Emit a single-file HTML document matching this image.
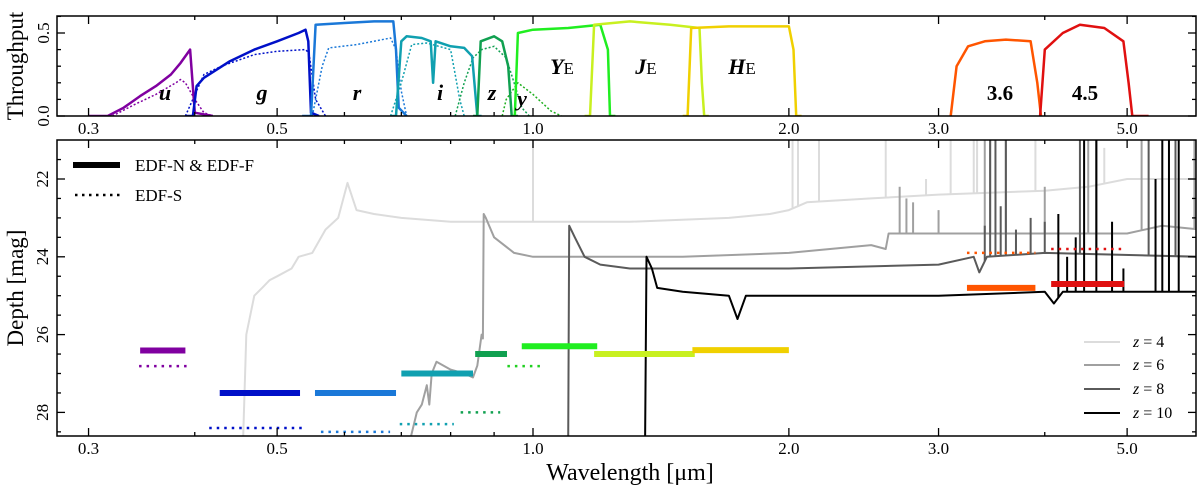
<!DOCTYPE html>
<html><head><meta charset="utf-8">
<style>
html,body{margin:0;padding:0;background:#fff;}
svg{display:block;font-family:"Liberation Serif","DejaVu Serif",serif;}
</style></head>
<body>
<svg id="fig" width="1200" height="493" viewBox="0 0 1200 493" xmlns="http://www.w3.org/2000/svg"></svg>
<script>
// ---- filter throughput curves (wavelength um, throughput) ----
const uSolid=[[0.30,0],[0.316,0],[0.33,0.05],[0.345,0.12],[0.36,0.18],[0.375,0.25],[0.385,0.32],[0.395,0.40],[0.40,0.02],[0.42,0]];
const uDot=[[0.32,0],[0.34,0.07],[0.36,0.13],[0.38,0.2],[0.385,0.22],[0.39,0.2],[0.40,0.1],[0.41,0.02],[0.42,0]];
const gSolid=[[0.39,0],[0.398,0],[0.402,0.18],[0.41,0.23],[0.44,0.33],[0.47,0.4],[0.5,0.45],[0.53,0.5],[0.54,0.52],[0.544,0.45],[0.548,0.02],[0.56,0]];
const gDot=[[0.39,0],[0.41,0.25],[0.43,0.3],[0.47,0.37],[0.5,0.39],[0.54,0.4],[0.545,0.38],[0.555,0.1],[0.57,0]];
const rSolid=[[0.535,0],[0.548,0],[0.555,0.55],[0.6,0.56],[0.65,0.57],[0.685,0.57],[0.69,0.4],[0.695,0.05],[0.71,0]];
const rDot=[[0.55,0],[0.565,0.3],[0.575,0.41],[0.62,0.43],[0.68,0.47],[0.69,0.4],[0.7,0.15],[0.71,0]];
const iSolid=[[0.68,0],[0.69,0],[0.7,0.45],[0.71,0.48],[0.74,0.47],[0.758,0.45],[0.763,0.2],[0.768,0.45],[0.8,0.42],[0.83,0.41],[0.848,0.36],[0.86,0],[0.87,0]];
const iDot=[[0.68,0],[0.7,0.2],[0.72,0.43],[0.75,0.44],[0.8,0.4],[0.81,0.25],[0.82,0.1],[0.83,0]];
const zSolid=[[0.85,0],[0.86,0],[0.868,0.45],[0.9,0.48],[0.92,0.45],[0.935,0.3],[0.944,0],[0.96,0]];
const zDot=[[0.81,0],[0.83,0.2],[0.85,0.35],[0.87,0.4],[0.9,0.42],[0.93,0.35],[0.95,0.2],[0.97,0.05],[0.99,0]];
const yDot=[[0.92,0],[0.93,0.1],[0.96,0.2],[1.0,0.13],[1.05,0.03],[1.08,0]];
const YSolid=[[0.945,0],[0.952,0],[0.96,0.5],[1.0,0.52],[1.1,0.53],[1.2,0.55],[1.225,0.4],[1.232,0],[1.25,0]];
const JSolid=[[1.15,0],[1.167,0],[1.18,0.55],[1.3,0.57],[1.45,0.55],[1.57,0.53],[1.58,0.2],[1.59,0],[1.61,0]];
const HSolid=[[1.50,0],[1.52,0],[1.535,0.53],[1.7,0.54],[2.0,0.54],[2.025,0.4],[2.04,0],[2.07,0]];
const ch1Solid=[[3.1,0],[3.15,0.3],[3.25,0.42],[3.4,0.45],[3.6,0.46],[3.85,0.45],[3.92,0.2],[3.96,0]];
const ch2Solid=[[3.95,0],[4.0,0.4],[4.2,0.5],[4.4,0.55],[4.7,0.53],[4.95,0.45],[5.02,0.2],[5.07,0],[5.3,0]];
// ---- depth bars: [lamMin, lamMax, mag] ----
const solidBars=[[0.345,0.390,26.41,'#8000a0','u'],[0.428,0.532,27.5,'#0010c8','g'],[0.554,0.690,27.5,'#1a78d8','r'],[0.70,0.85,27.0,'#10a0b0','i'],[0.855,0.932,26.5,'#10a050','z'],[0.97,1.19,26.3,'#20ee20','Y'],[1.18,1.55,26.5,'#c8f020','J'],[1.54,2.0,26.4,'#f0d000','H'],[3.24,3.9,24.8,'#ff5500','ch1'],[4.07,4.96,24.7,'#e01010','ch2']];
const dotBars=[[0.344,0.393,26.81,'#8000a0','u'],[0.416,0.541,28.4,'#0010c8','g'],[0.563,0.679,28.5,'#1a78d8','r'],[0.697,0.807,28.3,'#10a0b0','i'],[0.822,0.915,28.0,'#10a050','z'],[0.933,1.02,26.81,'#20d020','y'],[3.24,3.9,23.9,'#ff5500','ch1'],[4.07,4.96,23.8,'#e01010','ch2']];
// ---- spectra depth curves ----
const z4=[[0.456,28.7],[0.46,26.0],[0.47,25.0],[0.48,24.8],[0.49,24.6],[0.5,24.5],[0.52,24.3],[0.53,24.0],[0.55,23.9],[0.57,23.3],[0.59,23.0],[0.605,22.1],[0.62,22.8],[0.65,22.9],[0.7,23.0],[0.8,23.1],[1.0,23.1],[1.3,23.1],[1.7,23.0],[1.9,22.9],[2.0,22.8],[2.1,22.6],[2.5,22.5],[3.0,22.4],[4.0,22.3],[4.5,22.2],[5.0,22.0],[6.1,22.0]];
const z4Lines=[[1.0,21.0],[2.02,21.0],[2.05,21.0],[2.17,21.0],[2.6,21.0],[2.9,22.0],[3.1,21.0],[3.3,21.0],[3.33,21.0],[3.9,21.0],[4.7,21.2]];
const z6=[[0.717,28.7],[0.73,28.0],[0.74,27.8],[0.75,27.3],[0.755,27.8],[0.76,27.0],[0.77,26.7],[0.8,26.9],[0.83,27.0],[0.85,27.1],[0.86,26.8],[0.87,26.0],[0.873,26.1],[0.875,22.9],[0.88,23.0],[0.9,23.5],[0.95,23.9],[1.0,24.0],[1.5,24.0],[2.0,23.9],[2.5,23.7],[2.6,23.8],[2.62,23.4],[2.7,23.4],[3.0,23.4],[4.0,23.4],[5.0,23.4],[5.5,23.2],[6.1,23.3]];
const z6Lines=[[2.7,22.2],[2.75,22.5],[2.8,22.6],[3.0,22.8],[3.4,21.0],[3.45,21.0],[3.6,21.0],[4.0,22.2],[4.5,21.0],[5.2,21.0],[6.0,21.0]];
const z8=[[1.1,28.7],[1.103,23.2],[1.12,23.5],[1.15,24.0],[1.2,24.2],[1.3,24.3],[1.5,24.3],[2.0,24.3],[3.0,24.2],[3.3,24.0],[3.35,24.4],[3.42,24.0],[4.0,23.9],[6.1,24.0]];
const z8Lines=[[3.4,23.2],[3.45,21.0],[3.5,21.0],[3.55,22.7],[3.6,21.0],[3.7,23.3],[3.85,23.0],[4.0,23.1],[4.4,21.0],[4.6,21.0],[5.3,21.0],[5.7,21.0]];
const z10=[[1.355,28.7],[1.36,24.0],[1.38,24.3],[1.4,24.8],[1.5,24.9],[1.7,25.0],[1.74,25.6],[1.78,25.0],[2.0,25.0],[3.0,25.0],[4.0,24.9],[4.1,25.2],[4.2,24.9],[6.1,24.9]];
const z10Lines=[[4.15,22.9],[4.25,24.0],[4.35,23.5],[4.45,21.0],[4.6,21.0],[4.8,23.1],[4.95,24.3],[5.4,22.0],[5.5,21.0],[5.6,21.0],[5.75,21.0]];
const xTicks=[0.3,0.5,1.0,2.0,3.0,5.0];
const xTickLabels=['0.3','0.5','1.0','2.0','3.0','5.0'];
const xMinor=[0.4,0.6,0.7,0.8,0.9,4.0];
const tTicks=[0.0,0.5];
const mTicks=[22,24,26,28];

const NS='http://www.w3.org/2000/svg';
const svg=document.getElementById('fig');
const L=57,R=1196,T1=16,B1=116,T2=140,B2=436;
const X=l=>533+850*Math.log10(l);
const YT=t=>116-t*166;
const YM=m=>179+(m-22)*38.9;
function mk(tag,attrs,parent){const e=document.createElementNS(NS,tag);for(const k in attrs)e.setAttribute(k,attrs[k]);(parent||svg).appendChild(e);return e;}
const clipDefs=mk('defs',{});
const c1=mk('clipPath',{id:'c1'},clipDefs);mk('rect',{x:L,y:T1,width:R-L,height:B1-T1},c1);
const c2=mk('clipPath',{id:'c2'},clipDefs);mk('rect',{x:L,y:T2,width:R-L,height:B2-T2},c2);
const g1=mk('g',{'clip-path':'url(#c1)'});


const g2=mk('g',{'clip-path':'url(#c2)'});



function curve(pts,color,w,dash,name,parent,yf){
  const d=pts.map((p,i)=>(i?'L':'M')+X(p[0]).toFixed(1)+','+yf(p[1]).toFixed(1)).join(' ');
  const e=mk('path',{d:d,fill:'none',stroke:color,'stroke-width':w,'stroke-linejoin':'round'},parent);
  if(dash)e.setAttribute('stroke-dasharray',dash);
  
  
  return e;
}
// throughput
const filt=[[uDot,'#8000a0',1.5,'2,2','u-dotted'],[gDot,'#0010c8',1.5,'2,2','g-dotted'],[rDot,'#1a78d8',1.5,'2,2','r-dotted'],[iDot,'#10a0b0',1.5,'2,2','i-dotted'],[zDot,'#10a050',1.5,'2,2','z-dotted'],[yDot,'#20b020',1.5,'2,2','y-dotted'],
 [uSolid,'#8000a0',2.5,null,'u-filter'],[gSolid,'#0010c8',2.5,null,'g-filter'],[rSolid,'#1a78d8',2.5,null,'r-filter'],[iSolid,'#10a0b0',2.5,null,'i-filter'],[zSolid,'#10a050',2.5,null,'z-filter'],[YSolid,'#20ee20',2.5,null,'YE-filter'],[JSolid,'#c8f020',2.5,null,'JE-filter'],[HSolid,'#f0d000',2.5,null,'HE-filter'],[ch1Solid,'#ff5500',2.5,null,'ch1-filter'],[ch2Solid,'#e01010',2.5,null,'ch2-filter']];
filt.forEach(f=>curve(f[0],f[1],f[2],f[3],f[4],g1,YT));
// spectra
function spec(pts,lines,color,name){
  curve(pts,color,2,null,name,g2,YM);
  lines.forEach(l=>{
    let base=pts[pts.length-1][1];
    for(let i=1;i<pts.length;i++){if(pts[i][0]>=l[0]){const a=pts[i-1],b=pts[i];base=a[1]+(b[1]-a[1])*(l[0]-a[0])/(b[0]-a[0]);break;}}
    const e=mk('line',{x1:X(l[0]),x2:X(l[0]),y1:YM(base),y2:YM(l[1]),stroke:color,'stroke-width':2},g2);
    
    
  });
}
spec(z4,z4Lines,'#dcdcdc','spectrum-z4');
spec(z6,z6Lines,'#a0a0a0','spectrum-z6');
spec(z8,z8Lines,'#5a5a5a','spectrum-z8');
spec(z10,z10Lines,'#000000','spectrum-z10');
// bars
solidBars.forEach(b=>{const e=mk('line',{x1:X(b[0]),x2:X(b[1]),y1:YM(b[2]),y2:YM(b[2]),stroke:b[3],'stroke-width':6},g2);
 
 });
dotBars.forEach(b=>{const e=mk('line',{x1:X(b[0]),x2:X(b[1]),y1:YM(b[2]),y2:YM(b[2]),stroke:b[3],'stroke-width':2.5,'stroke-dasharray':'2.5,5'},g2);
 
 });

// axes frames & ticks
function frame(top,bot,name){const e=mk('rect',{x:L,y:top,width:R-L,height:bot-top,fill:'none',stroke:'#000','stroke-width':1.5});
 
 }
frame(T1,B1,'throughput-axes');frame(T2,B2,'depth-axes');
function tick(x1,y1,x2,y2){mk('line',{x1,y1,x2,y2,stroke:'#000','stroke-width':1.3});}
function text(x,y,s,size,name,anchor,extra){const e=mk('text',Object.assign({x,y,'font-size':size,'text-anchor':anchor||'middle'},extra||{}));e.textContent=s;
 
 return e;}
[[T1,B1],[T2,B2]].forEach(([t,b],pi)=>{
  xTicks.forEach((v,i)=>{const x=X(v);tick(x,b,x,b-8);tick(x,t,x,t+8);
    text(x,b+18,xTickLabels[i],17,'x-tick-label');});
  xMinor.forEach(v=>{const x=X(v);tick(x,b,x,b-4);tick(x,t,x,t+4);});
});
for(let v=0;v<=0.6001;v+=0.1){const y=YT(v);const maj=Math.abs(v%0.5)<1e-6||Math.abs(v-0.5)<1e-6;tick(L,y,L+(maj?8:4),y);tick(R,y,R-(maj?8:4),y);}
tTicks.forEach(v=>text(0,0,v.toFixed(1),17,'y-tick-label','middle',{transform:`translate(49,${YT(v)}) rotate(-90)`}));
for(let m=21.5;m<=28.5;m+=0.5){const y=YM(m);const maj=m%2===0;tick(L,y,L+(maj?8:4),y);tick(R,y,R-(maj?8:4),y);}
mTicks.forEach(v=>text(0,0,String(v),17,'y-tick-label','middle',{transform:`translate(48,${YM(v)}) rotate(-90)`}));
// axis titles
text(0,0,'Throughput',23,'throughput-axis-title','middle',{transform:'translate(23,66) rotate(-90)'});
text(0,0,'Depth [mag]',23,'depth-axis-title','middle',{transform:'translate(23,288) rotate(-90)'});
text(630,480,'Wavelength [\u03bcm]',24,'x-axis-title');
// filter labels
const fl=[[165,100,'u'],[262,100,'g'],[357,100,'r'],[440,100,'i'],[492,100,'z'],[522,106,'y']];
fl.forEach(f=>text(f[0],f[1],f[2],22,'filter-label-'+f[2],'middle',{'font-weight':'bold','font-style':'italic'}));
[[562,'Y','YE'],[646,'J','JE'],[742,'H','HE']].forEach(f=>{const e=text(f[0],74,'',22,'filter-label-'+f[2]);
 const a=mk('tspan',{'font-weight':'bold','font-style':'italic'},e);a.textContent=f[1];const b=mk('tspan',{'font-size':17},e);b.textContent='E';});
text(1000,100,'3.6',21,'filter-label-3.6','middle',{'font-weight':'bold'});
text(1085,100,'4.5',21,'filter-label-4.5','middle',{'font-weight':'bold'});
// legends
mk('line',{x1:73,x2:120,y1:165,y2:165,stroke:'#000','stroke-width':6});
text(135,171,'EDF-N & EDF-F',17,'legend-edf-n-f','start');
mk('line',{x1:75,x2:120,y1:195,y2:195,stroke:'#000','stroke-width':2.5,'stroke-dasharray':'2.5,4.5'});
text(135,201,'EDF-S',17,'legend-edf-s','start');
[['4','#dcdcdc',342],['6','#a0a0a0',365],['8','#5a5a5a',389],['10','#000',413]].forEach(l=>{
  mk('line',{x1:1084,x2:1120,y1:l[2],y2:l[2],stroke:l[1],'stroke-width':2});
  const e=text(1133,l[2]+5,'',16,'legend-z'+l[0],'start');
  const a=mk('tspan',{'font-style':'italic'},e);a.textContent='z';const b=mk('tspan',{},e);b.textContent=' = '+l[0];
});
</script>
</body></html>
